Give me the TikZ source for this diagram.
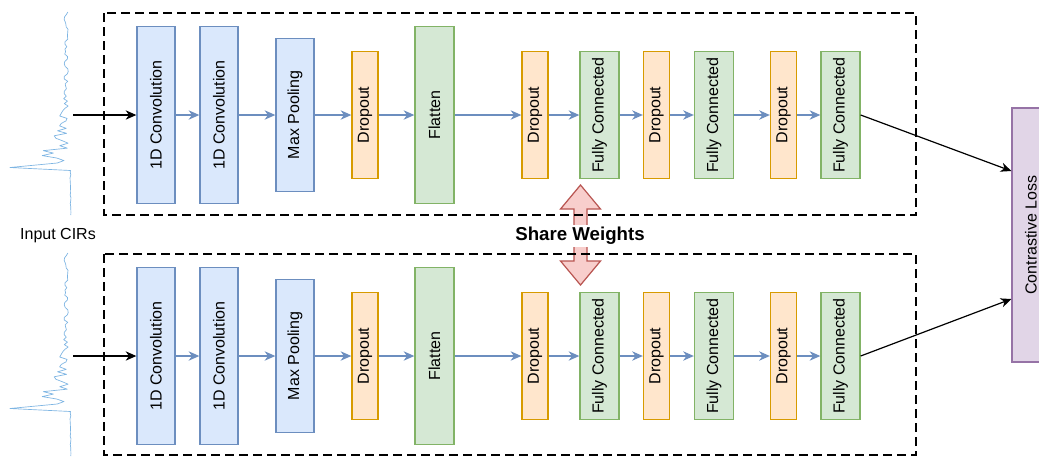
\documentclass[tikz,border=0pt]{standalone}
\usepackage{fontspec}
\setmainfont{Liberation Sans}
\usetikzlibrary{arrows.meta,calc}
\definecolor{bluefill}{HTML}{DAE8FC}
\definecolor{bluedraw}{HTML}{6C8EBF}
\definecolor{orangefill}{HTML}{FFE6CC}
\definecolor{orangedraw}{HTML}{D79B00}
\definecolor{greenfill}{HTML}{D5E8D4}
\definecolor{greendraw}{HTML}{82B366}
\definecolor{purplefill}{HTML}{E1D5E7}
\definecolor{purpledraw}{HTML}{9673A6}
\definecolor{redfill}{HTML}{F8CECC}
\definecolor{reddraw}{HTML}{B85450}
\definecolor{sigblue}{HTML}{7DB5E3}
\newcommand\netrow[2]{%
  \node[conv] (#1c1) at (156,#2) {\rotatebox{90}{1D Convolution}};
  \node[conv] (#1c2) at (219,#2) {\rotatebox{90}{1D Convolution}};
  \node[pool] (#1p)  at (295,#2) {\rotatebox{90}{Max Pooling}};
  \node[drop] (#1d1) at (365,#2) {\rotatebox{90}{Dropout}};
  \node[flat] (#1f)  at (434.5,#2) {\rotatebox{90}{Flatten}};
  \node[drop] (#1d2) at (535,#2) {\rotatebox{90}{Dropout}};
  \node[fc]   (#1fc1) at (599.5,#2) {\rotatebox{90}{Fully Connected}};
  \node[drop] (#1d3) at (656.5,#2) {\rotatebox{90}{Dropout}};
  \node[fc]   (#1fc2) at (714,#2) {\rotatebox{90}{Fully Connected}};
  \node[drop] (#1d4) at (783.5,#2) {\rotatebox{90}{Dropout}};
  \node[fc]   (#1fc3) at (840.5,#2) {\rotatebox{90}{Fully Connected}};
  \foreach \a/\b in {c1/c2,c2/p,p/d1,d1/f,f/d2,d2/fc1,fc1/d3,d3/fc2,fc2/d4,d4/fc3}
    \draw[flow] (#1\a) -- (#1\b);
}
\newcommand\cirsignal{%
  \pgfmathsetseed{7}%
  \draw[sig] plot[domain=12:163, samples=62, variable=\t]
      ({68.5-(4.5+max(0,\t-88)^2*0.0055)*rnd}, \t)
    -- (10,167.5) -- (70.5,170.5)
    -- plot[domain=172:215, samples=16, variable=\t] ({70.5+0.5*rand}, \t);
}
\begin{document}
\begin{tikzpicture}[x=0.75pt,y=-0.75pt,
  box/.style={draw, line width=1pt, inner sep=0pt, font=\fontsize{12}{14}\selectfont},
  conv/.style={box, fill=bluefill, draw=bluedraw, minimum width=28.5pt, minimum height=132.75pt},
  pool/.style={box, fill=bluefill, draw=bluedraw, minimum width=28.5pt, minimum height=114.75pt},
  drop/.style={box, fill=orangefill, draw=orangedraw, minimum width=19.5pt, minimum height=95.25pt},
  flat/.style={box, fill=greenfill, draw=greendraw, minimum width=29.25pt, minimum height=132.75pt},
  fc/.style={box, fill=greenfill, draw=greendraw, minimum width=29.25pt, minimum height=95.25pt},
  loss/.style={box, fill=purplefill, draw=purpledraw, minimum width=28.5pt, minimum height=190.5pt},
  flow/.style={draw=bluedraw, line width=1pt, -{Stealth[length=8pt,width=7pt,inset=2.5pt]}},
  blk/.style={draw=black, line width=0.9pt, -{Stealth[length=8pt,width=7pt,inset=2.5pt]}},
  group/.style={draw=black, line width=1.5pt, dash pattern=on 6.5pt off 4pt},
  sig/.style={draw=sigblue, line width=0.5pt, line join=round},
  share/.style={fill=redfill, draw=reddraw, line width=0.9pt},
  lbl/.style={font=\fontsize{12}{14}\selectfont, inner sep=1pt}
  ]
\clip (0,0) rectangle (1039,458);
\fill[white] (0,0) rectangle (1039,458);

% share weights double arrow
\draw[share] (580.5,185) -- (600.5,209) -- (587,209) -- (587,261) -- (600.5,261)
  -- (580.5,285) -- (560.5,261) -- (574,261) -- (574,209) -- (560.5,209) -- cycle;

% dashed groups
\draw[group] (104,13) rectangle (916,215);
\draw[group] (104,254) rectangle (916,455);

% signals
\cirsignal
\begin{scope}[yshift=-180.75pt]
\cirsignal
\end{scope}
\coordinate (in1) at (73,115);
\coordinate (in2) at (73,356);

\netrow{t}{115}
\netrow{b}{356}

\node[loss] (loss) at (1031,235) {\rotatebox{90}{Contrastive Loss}};

\draw[blk] (in1) -- (tc1);
\draw[blk] (in2) -- (bc1);
\draw[blk] (tfc3.east) -- ($(loss.west)+(0,-64)$);
\draw[blk] (bfc3.east) -- ($(loss.west)+(0,64)$);

\node[lbl] (inlabel) at (58,236) {Input CIRs};
\node[font=\bfseries\fontsize{14}{16}\selectfont, fill=white, inner sep=2pt] (sharelbl) at (580,236) {Share Weights};
\end{tikzpicture}
\end{document}
